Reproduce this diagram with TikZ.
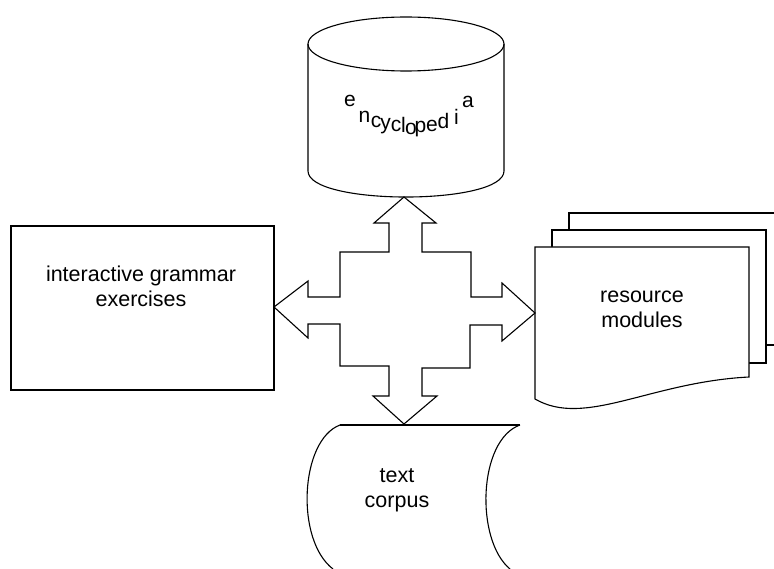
\documentclass[tikz,border=0pt]{standalone}
\usepackage{fontspec}
\setmainfont{Liberation Sans}
\begin{document}
\begin{tikzpicture}[x=1pt,y=-1pt,
  outline/.style={draw=black, line width=1.1pt, line join=miter},
  lbl/.style={font=\fontsize{21.5}{25}\selectfont, align=center, inner sep=0pt},
  glyph/.style={font=\fontsize{21}{25}\selectfont, anchor=base, inner sep=0pt}]
\useasboundingbox (0,0) rectangle (774,569);

% encyclopedia cylinder
\draw[outline, fill=white] (308,44) -- (308,171) .. controls (308,205.7) and (504,205.7) .. (504,171) -- (504,44);
\draw[outline] (406,44) ellipse [x radius=98, y radius=27];
\foreach \ch/\x/\y [count=\i] in {e/350/107, n/364.5/123, c/376/128, y/385.5/130, c/396/132, l/403.5/133, o/411/135, p/420.5/133, e/432/132, d/443.5/129, i/456.5/125, a/468/108}
  \node[glyph] (enc\i) at (\x,\y) {\ch};

% interactive grammar exercises box
\node[outline, rectangle, minimum width=263pt, minimum height=164pt, inner sep=0pt] (gbox) at (142.5,308) {};
\node[lbl] (grammar) at (141,286) {interactive grammar\\exercises};

% resource modules (stacked pages)
\draw[outline] (569,230) -- (569,213) -- (783,213) -- (783,345) -- (766,345);
\draw[outline] (552,247) -- (552,230) -- (766,230) -- (766,363) -- (749,363);
\draw[outline, fill=white] (535,399) -- (535,247) -- (749,247) -- (749,377)
  .. controls (650,382) and (585,428) .. cycle;
\node[lbl] (resource) at (642,309) {resource\\modules};

% text corpus (stored data shape)
\draw[outline] (340,425) -- (520,425);
\draw[outline] (340,425) .. controls (300,440) and (295,540) .. (333,569);
\draw[outline] (520,425) .. controls (478,440) and (475,540) .. (510,569);
\node[lbl] (corpus) at (397,490) {text\\corpus};

% four-way block arrow
\draw[outline, fill=white]
  (404,197) -- (436,223) -- (422,223) -- (422,252) -- (471,252) -- (471,297)
  -- (502,297) -- (502,283) -- (535,313) -- (502,341) -- (502,325) -- (470,325)
  -- (470,368) -- (422,368) -- (422,396) -- (437,396) -- (404,424) -- (373,396)
  -- (389,396) -- (389,366) -- (340,366) -- (340,324) -- (308,324) -- (308,338)
  -- (274,307) -- (308,281) -- (308,297) -- (340,297) -- (340,252) -- (389,252)
  -- (389,223) -- (374,223) -- cycle;
\end{tikzpicture}
\end{document}
